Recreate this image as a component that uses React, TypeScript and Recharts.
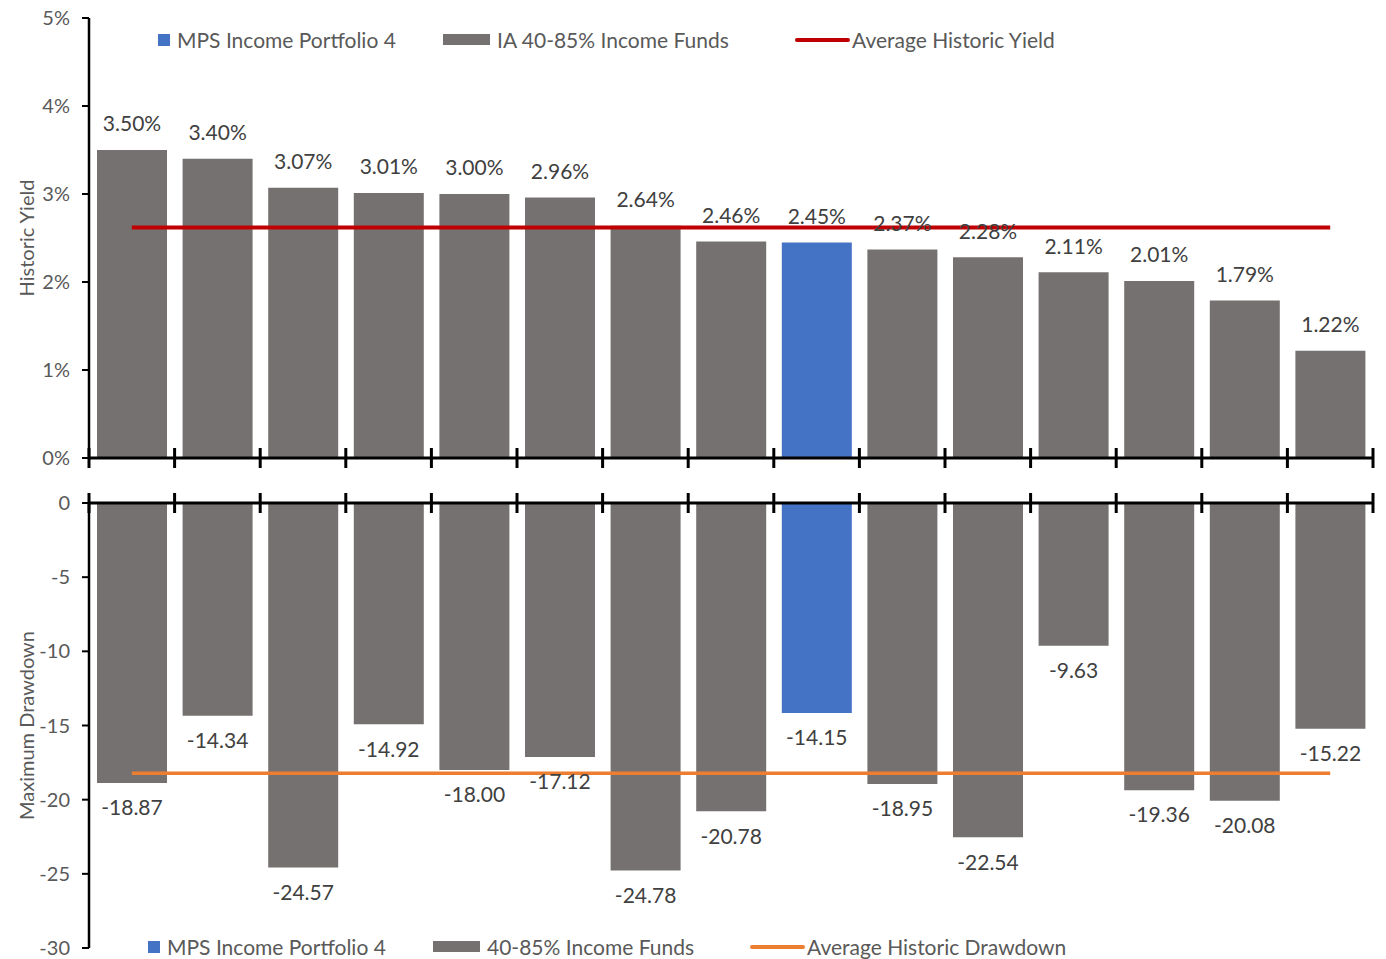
import React from "react";
import {
  ComposedChart,
  Bar,
  Cell,
  XAxis,
  YAxis,
  LabelList,
  ReferenceLine,
  Legend,
} from "recharts";

const MPS = "MPS Income Portfolio 4";

const CATEGORIES = [
  "Fund A",
  "Fund B",
  "Fund C",
  "Fund D",
  "Fund E",
  "Fund F",
  "Fund G",
  "Fund H",
  MPS,
  "Fund I",
  "Fund J",
  "Fund K",
  "Fund L",
  "Fund M",
  "Fund N",
];

const HISTORIC_YIELD = [
  3.5, 3.4, 3.07, 3.01, 3.0, 2.96, 2.64, 2.46, 2.45, 2.37, 2.28, 2.11, 2.01,
  1.79, 1.22,
];

const MAX_DRAWDOWN = [
  -18.87, -14.34, -24.57, -14.92, -18.0, -17.12, -24.78, -20.78, -14.15,
  -18.95, -22.54, -9.63, -19.36, -20.08, -15.22,
];

const AVG_YIELD = 2.62;
const AVG_DRAWDOWN = -18.22;

const YIELD_TICKS = [0, 1, 2, 3, 4, 5];
const DRAWDOWN_TICKS = [0, -5, -10, -15, -20, -25, -30];

const TOP_LEGEND = [MPS, "IA 40-85% Income Funds", "Average Historic Yield"];
const BOTTOM_LEGEND = [MPS, "40-85% Income Funds", "Average Historic Drawdown"];

const BLUE = "#4472C4";
const GREY = "#767171";
const RED = "#C00000";
const ORANGE = "#ED7D31";
const FONT = "Lato, 'Open Sans', sans-serif";

const WIDTH = 1386;
const LEFT = 89;
const RIGHT = 13;
const STEP = (WIDTH - LEFT - RIGHT) / CATEGORIES.length;

const yieldData = CATEGORIES.map((name, i) => ({ name, value: HISTORIC_YIELD[i] }));
const drawdownData = CATEGORIES.map((name, i) => ({ name, value: MAX_DRAWDOWN[i] }));

// tick marks sit on the category boundaries and cross the axis line
const BoundaryTick = (props: any) => {
  const { x, y, payload } = props;
  const idx = props.index ?? payload?.index ?? 0;
  const left = x - STEP / 2;
  return (
    <g>
      <line x1={left} x2={left} y1={y - 10} y2={y + 10} stroke="#000" strokeWidth={3} />
      {idx === CATEGORIES.length - 1 && (
        <line x1={x + STEP / 2} x2={x + STEP / 2} y1={y - 10} y2={y + 10} stroke="#000" strokeWidth={3} />
      )}
    </g>
  );
};

const makeBarLabel = (format: (v: number) => string, below: boolean) => (props: any) => {
  const { x, y, width, height, value } = props;
  if (value == null) return null;
  const top = Math.min(y, y + height);
  const bottom = Math.max(y, y + height);
  return (
    <text
      x={x + width / 2}
      y={below ? bottom + 27 : top - 24}
      textAnchor="middle"
      dominantBaseline="middle"
      fill="#404040"
      fontSize={21}
      fontFamily={FONT}
    >
      {format(value)}
    </text>
  );
};

const LegendRow = ({ labels, lineColor, top, xs }: { labels: string[]; lineColor: string; top: number; xs: number[] }) => {
  const text: React.CSSProperties = {
    position: "absolute",
    top: top - 13,
    fontSize: 21,
    lineHeight: "26px",
    color: "#595959",
    fontFamily: FONT,
    whiteSpace: "nowrap",
  };
  return (
    <div style={{ position: "absolute", left: 0, top: 0, width: WIDTH, height: 0 }}>
      <div style={{ position: "absolute", left: xs[0], top: top - 6, width: 12, height: 12, background: BLUE }} />
      <div style={{ ...text, left: xs[0] + 19 }}>{labels[0]}</div>
      <div style={{ position: "absolute", left: xs[1], top: top - 6, width: 47, height: 11, background: GREY }} />
      <div style={{ ...text, left: xs[1] + 54 }}>{labels[1]}</div>
      <div style={{ position: "absolute", left: xs[2], top: top - 2, width: 55, height: 4, borderRadius: 2, background: lineColor }} />
      <div style={{ ...text, left: xs[2] + 57 }}>{labels[2]}</div>
    </div>
  );
};

const tickStyle = { fontSize: 20, fill: "#595959", fontFamily: FONT };
const axisLabelStyle = { fontSize: 20, fill: "#595959", fontFamily: FONT, textAnchor: "middle" as const };

export default function App() {
  return (
    <div style={{ position: "absolute", left: 0, top: 0, width: WIDTH, height: 959, background: "#fff" }}>
      <ComposedChart
        width={WIDTH}
        height={480}
        data={yieldData}
        margin={{ top: 18, right: RIGHT, bottom: 2, left: 0 }}
        barSize={70}
      >
        <XAxis
          dataKey="name"
          height={20}
          interval={0}
          tickLine={false}
          tickSize={0}
          tickMargin={0}
          axisLine={{ stroke: "#000", strokeWidth: 3 }}
          tick={<BoundaryTick />}
        />
        <YAxis
          width={LEFT}
          domain={[0, 5]}
          ticks={YIELD_TICKS}
          tickFormatter={(v) => `${v}%`}
          tick={tickStyle}
          tickSize={7}
          tickMargin={12}
          tickLine={{ stroke: "#000", strokeWidth: 2 }}
          axisLine={{ stroke: "#000", strokeWidth: 2.5 }}
          label={{ value: "Historic Yield", angle: -90, position: "insideLeft", offset: 27, style: axisLabelStyle }}
        />
        <Legend
          wrapperStyle={{ position: "absolute", left: 0, top: 0, width: WIDTH, height: 0 }}
          content={() => <LegendRow labels={TOP_LEGEND} lineColor={RED} top={40} xs={[158, 443, 795]} />}
        />
        <Bar dataKey="value" isAnimationActive={false}>
          {yieldData.map((d) => (
            <Cell key={d.name} fill={d.name === MPS ? BLUE : GREY} />
          ))}
          <LabelList dataKey="value" content={makeBarLabel((v) => `${v.toFixed(2)}%`, false)} />
        </Bar>
        <ReferenceLine
          segment={[
            { x: CATEGORIES[0], y: AVG_YIELD },
            { x: CATEGORIES[CATEGORIES.length - 1], y: AVG_YIELD },
          ]}
          stroke={RED}
          strokeWidth={4}
        />
      </ComposedChart>

      <div style={{ position: "absolute", left: 0, top: 480 }}>
        <ComposedChart
          width={WIDTH}
          height={479}
          data={drawdownData}
          margin={{ top: 10, right: RIGHT, bottom: 11, left: 0 }}
          barSize={70}
        >
          <XAxis
            dataKey="name"
            orientation="top"
            height={13}
            interval={0}
            tickLine={false}
            tickSize={0}
            tickMargin={0}
            axisLine={{ stroke: "#000", strokeWidth: 3 }}
            tick={<BoundaryTick />}
          />
          <YAxis
            width={LEFT}
            domain={[-30, 0]}
            ticks={DRAWDOWN_TICKS}
            tick={tickStyle}
            tickSize={7}
            tickMargin={12}
            tickLine={{ stroke: "#000", strokeWidth: 2 }}
            axisLine={{ stroke: "#000", strokeWidth: 2.5 }}
            label={{ value: "Maximum Drawdown", angle: -90, position: "insideLeft", offset: 27, style: axisLabelStyle }}
          />
          <Legend
            wrapperStyle={{ position: "absolute", left: 0, top: 0, width: WIDTH, height: 0 }}
            content={() => <LegendRow labels={BOTTOM_LEGEND} lineColor={ORANGE} top={467} xs={[148, 433, 750]} />}
          />
          <Bar dataKey="value" isAnimationActive={false}>
            {drawdownData.map((d) => (
              <Cell key={d.name} fill={d.name === MPS ? BLUE : GREY} />
            ))}
            <LabelList dataKey="value" content={makeBarLabel((v) => v.toFixed(2), true)} />
          </Bar>
          <ReferenceLine
            segment={[
              { x: CATEGORIES[0], y: AVG_DRAWDOWN },
              { x: CATEGORIES[CATEGORIES.length - 1], y: AVG_DRAWDOWN },
            ]}
            stroke={ORANGE}
            strokeWidth={3.5}
          />
        </ComposedChart>
      </div>
    </div>
  );
}
